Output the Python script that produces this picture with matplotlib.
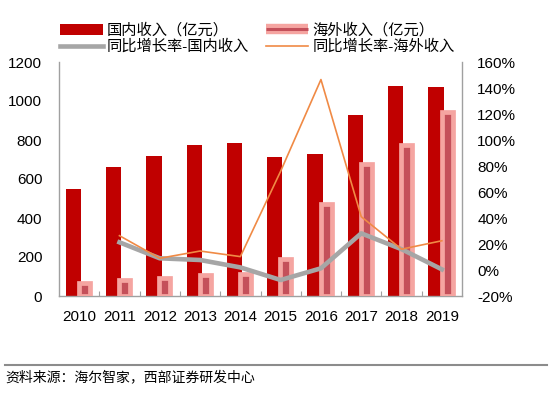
import matplotlib
matplotlib.use("Agg")
import matplotlib.pyplot as plt
import numpy as np
from matplotlib.lines import Line2D
from matplotlib.patches import Patch

plt.rcParams['font.family'] = ['Liberation Sans', 'Noto Sans CJK SC', 'DejaVu Sans']

years = ['2010', '2011', '2012', '2013', '2014', '2015', '2016', '2017', '2018', '2019']
domestic = [549, 663, 718, 773, 786, 714, 728, 928, 1077, 1073]
overseas = [68, 84, 91, 106, 114, 191, 473, 675, 776, 944]
growth_dom = [np.nan, 21.3, 9.0, 7.7, 2.0, -7.7, 1.3, 28.2, 16.0, 0.5]
growth_ovs = [np.nan, 26.4, 9.0, 14.6, 10.3, 76.0, 146.5, 41.0, 16.0, 22.5]

label_dom = '国内收入（亿元）'
label_ovs = '海外收入（亿元）'
label_gdom = '同比增长率-国内收入'
label_govs = '同比增长率-海外收入'
source = '资料来源：海尔智家，西部证券研发中心'

RED = '#c00000'
PINK = '#f5a5a1'
DARK = '#c4505a'
GREY = '#a6a6a6'
ORANGE = '#f08a45'
SPINE = '#a0a0a0'

fig = plt.figure(figsize=(5.5, 3.96), dpi=100)
ax = fig.add_axes([59/550, 1-296/396, 403/550, 234/396])
x = np.arange(len(years))

ax.bar(x - 0.146, domestic, width=0.38, color=RED, zorder=2)
ax.bar(x + 0.13, overseas, width=0.273, color=DARK, edgecolor=PINK, linewidth=3.4, zorder=3)

ax.set_xlim(-0.5, len(years) - 0.5)
ax.set_ylim(0, 1200)
ax.set_yticks(np.arange(0, 1201, 200))
ax.set_xticks(x)
ax.set_xticklabels(years)
ax.set_xticks(np.arange(0.5, len(years) - 1, 1), minor=True)
ax.tick_params(axis='x', which='major', length=0, pad=10, labelsize=11)
ax.tick_params(axis='x', which='minor', length=3.5, direction='in', color=SPINE, width=0.8)
ax.tick_params(axis='y', length=0, pad=12, labelsize=11)
for s in ['top', 'right']:
    ax.spines[s].set_visible(False)
for s in ['left', 'bottom']:
    ax.spines[s].set_color(SPINE)
    ax.spines[s].set_linewidth(1.0)

ax2 = ax.twinx()
ax2.plot(x, growth_dom, color=GREY, linewidth=3.3, zorder=4)
ax2.plot(x, growth_ovs, color=ORANGE, linewidth=1.2, zorder=5)
ax2.set_ylim(-20, 160)
ax2.set_yticks(np.arange(-20, 161, 20))
ax2.set_yticklabels([f'{v}%' for v in range(-20, 161, 20)])
ax2.tick_params(axis='y', length=0, pad=11, labelsize=11)
for s in ['top', 'left', 'bottom']:
    ax2.spines[s].set_visible(False)
ax2.spines['right'].set_color(SPINE)
ax2.spines['right'].set_linewidth(1.0)

h_dom = Patch(facecolor=RED, edgecolor='none')
h_ovs = (Line2D([], [], color=PINK, linewidth=7.5, solid_capstyle='butt'),
         Line2D([], [], color=DARK, linewidth=2.2, solid_capstyle='butt'))
h_gdom = Line2D([], [], color=GREY, linewidth=3.3)
h_govs = Line2D([], [], color=ORANGE, linewidth=1.2)

fig.legend([h_dom, h_gdom, h_ovs, h_govs], [label_dom, label_gdom, label_ovs, label_govs],
           ncol=2, loc='upper left', bbox_to_anchor=(60/550, 1-23/396),
           frameon=False, fontsize=11, handlelength=2.8, handletextpad=0.25,
           columnspacing=1.1, labelspacing=0.12, borderpad=0, borderaxespad=0,
           handleheight=0.7)

fig.add_artist(Line2D([5/550, 547/550], [1-364.5/396, 1-364.5/396],
                      transform=fig.transFigure, color='#8c8c8c', linewidth=1.5))
fig.text(5/550, 1-377/396, source, fontsize=10, va='center', ha='left')

fig.savefig('out.png', dpi=100)
